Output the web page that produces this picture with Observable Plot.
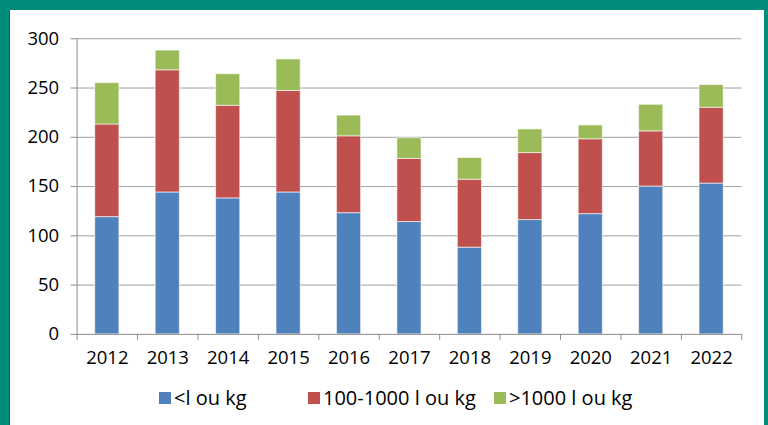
<!DOCTYPE html>
<html>
<head>
<meta charset="utf-8">
<script src="https://cdn.jsdelivr.net/npm/d3@7"></script>
<script src="https://cdn.jsdelivr.net/npm/@observablehq/plot@0.6"></script>
<style>
  html, body { margin: 0; padding: 0; }
  body { width: 768px; height: 425px; background: #008b7b; position: relative; overflow: hidden; font-family: "Open Sans", sans-serif; }
  #frame { position: absolute; left: 9px; top: 10px; width: 755px; height: 415px; background: #fff; border-left: 1px solid #006e60; box-sizing: border-box; }
  #chart { position: absolute; left: -1px; top: 0; }
  #legend { position: absolute; left: 149px; top: 374px; display: flex; align-items: center; font-size: 20px; color: #000; }
  .item { display: flex; align-items: center; }
  .sw { width: 12px; height: 12px; margin-right: 3px; }
</style>
</head>
<body>
<div id="frame">
  <div id="chart"></div>
  <div id="legend"></div>
</div>
<script>
const years = [2012, 2013, 2014, 2015, 2016, 2017, 2018, 2019, 2020, 2021, 2022];
const seriesNames = ["<l ou kg", "100-1000 l ou kg", ">1000 l ou kg"];
const small  = [119, 144, 138, 144, 123, 114, 88, 116, 122, 150, 153];
const medium = [94, 124, 94, 103, 78, 64, 69, 68, 76, 56, 77];
const large  = [42, 20, 32, 32, 21, 21, 22, 24, 14, 27, 23];
const colors = ["#4f81bd", "#c0504d", "#9bbb59"];
const yTicks = [0, 50, 100, 150, 200, 250, 300];

const seriesValues = [small, medium, large];
const rows = [];
years.forEach((yr, i) => {
  let base = 0;
  seriesValues.forEach((vals, s) => {
    rows.push({year: yr, series: seriesNames[s], y1: base, y2: base + vals[i]});
    base += vals[i];
  });
});
const boundaries = years.map(y => y - 0.5).concat([years[years.length - 1] + 0.5]);
const half = 0.2;

const chart = Plot.plot({
  width: 756,
  height: 365,
  marginLeft: 67.7,
  marginRight: 22.7,
  marginTop: 28.3,
  marginBottom: 40.7,
  style: {fontFamily: "Open Sans, sans-serif", fontSize: "18.5px", color: "#000", background: "transparent"},
  x: {type: "linear", domain: [years[0] - 0.5, years[years.length - 1] + 0.5]},
  y: {domain: [0, 300]},
  color: {domain: seriesNames, range: colors},
  marks: [
    Plot.ruleY(yTicks.slice(1), {stroke: "#a0a0a0", strokeWidth: 1}),
    Plot.rect(rows, {
      x1: d => d.year - half, x2: d => d.year + half,
      y1: "y1", y2: "y2", fill: "series",
      stroke: "#ffffff", strokeOpacity: 0.6, strokeWidth: 1
    }),
    Plot.ruleX([years[0] - 0.5], {stroke: "#8c8c8c"}),
    Plot.ruleY([0], {stroke: "#8c8c8c"}),
    Plot.axisY({ticks: yTicks, tickSize: 6, tickPadding: 12, stroke: "#8c8c8c", tickFormat: d => String(d), label: null}),
    Plot.axisX({ticks: boundaries, tickSize: 6, tickFormat: () => "", stroke: "#8c8c8c", label: null}),
    Plot.axisX({ticks: years, tickSize: 0, tickPadding: 17, tickFormat: d => String(d), label: null})
  ]
});
document.getElementById("chart").appendChild(chart);

const legend = document.getElementById("legend");
const widths = [149, 186, null];
seriesNames.forEach((name, i) => {
  const item = document.createElement("div");
  item.className = "item";
  if (widths[i]) item.style.width = widths[i] + "px";
  const sw = document.createElement("div");
  sw.className = "sw";
  sw.style.background = colors[i];
  const t = document.createElement("span");
  t.textContent = name;
  item.appendChild(sw);
  item.appendChild(t);
  legend.appendChild(item);
});
</script>
</body>
</html>
